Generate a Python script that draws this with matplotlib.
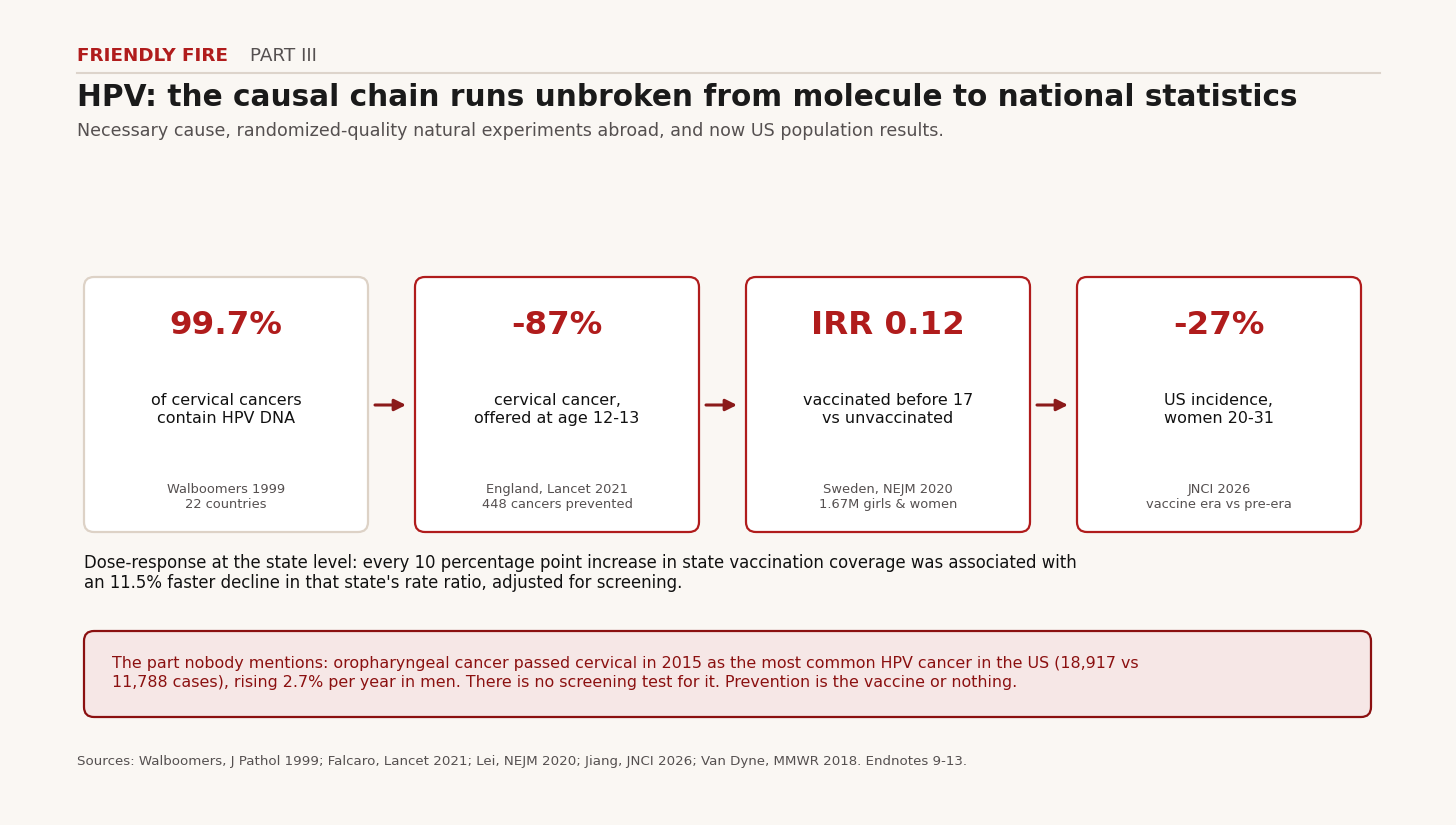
import matplotlib.pyplot as plt
from matplotlib.patches import FancyBboxPatch

plt.rcParams['font.family'] = 'DejaVu Sans'

# card data
stats = ['99.7%', '-87%', 'IRR 0.12', '-27%']
descriptions = ['of cervical cancers\ncontain HPV DNA',
                'cervical cancer,\noffered at age 12-13',
                'vaccinated before 17\nvs unvaccinated',
                'US incidence,\nwomen 20-31']
sources = ['Walboomers 1999\n22 countries',
           'England, Lancet 2021\n448 cancers prevented',
           'Sweden, NEJM 2020\n1.67M girls & women',
           'JNCI 2026\nvaccine era vs pre-era']

kicker = 'FRIENDLY FIRE'
part = 'PART III'
title = 'HPV: the causal chain runs unbroken from molecule to national statistics'
subtitle = 'Necessary cause, randomized-quality natural experiments abroad, and now US population results.'
dose_text = ("Dose-response at the state level: every 10 percentage point increase in state vaccination coverage was associated with\n"
             "an 11.5% faster decline in that state's rate ratio, adjusted for screening.")
callout = ("The part nobody mentions: oropharyngeal cancer passed cervical in 2015 as the most common HPV cancer in the US (18,917 vs\n"
           "11,788 cases), rising 2.7% per year in men. There is no screening test for it. Prevention is the vaccine or nothing.")
foot = 'Sources: Walboomers, J Pathol 1999; Falcaro, Lancet 2021; Lei, NEJM 2020; Jiang, JNCI 2026; Van Dyne, MMWR 2018. Endnotes 9-13.'

BG = '#faf7f3'
RED = '#b01c1c'
DARK = '#8b1a1a'
GRAY = '#555050'

fig = plt.figure(figsize=(14.56, 8.25), dpi=100, facecolor=BG)
ax = fig.add_axes([0, 0, 1, 1])
ax.set_xlim(0, 1456)
ax.set_ylim(825, 0)
ax.axis('off')
ax.set_facecolor(BG)

# header
ax.text(77, 56, kicker, color=RED, fontsize=13.2, fontweight='bold', va='center')
ax.text(250, 56, part, color=GRAY, fontsize=13.2, va='center')
ax.plot([77, 1380], [73, 73], color='#ddd4cb', lw=1.5)
ax.text(77, 97, title, color='#1a1a1a', fontsize=21.3, fontweight='bold', va='center')
ax.text(77, 131, subtitle, color=GRAY, fontsize=12.65, va='center')

# cards
x0 = 84
w = 284
step = 331
top = 277
h = 255
for i in range(len(stats)):
    x = x0 + i * step
    edge = '#ddd2c6' if i == 0 else RED
    box = FancyBboxPatch((x, top), w, h, boxstyle='round,pad=0,rounding_size=10',
                         facecolor='white', edgecolor=edge, lw=1.6)
    ax.add_patch(box)
    cx = x + w / 2
    ax.text(cx, 326, stats[i], color=RED, fontsize=23.4, fontweight='bold', ha='center', va='center')
    ax.text(cx, 409.5, descriptions[i], color='#111111', fontsize=11.5, ha='center', va='center',
            linespacing=1.2)
    ax.text(cx, 497, sources[i], color=GRAY, fontsize=9.4, ha='center', va='center',
            linespacing=1.2)
    if i < len(stats) - 1:
        ax.annotate('', xy=(x + w + 38, 405), xytext=(x + w + 7, 405),
                    arrowprops=dict(arrowstyle='-|>', color=DARK, lw=2.2,
                                    mutation_scale=17, shrinkA=0, shrinkB=0))

ax.text(84, 573, dose_text, color='#111111', fontsize=11.9, va='center', linespacing=1.15)

# callout box
cb = FancyBboxPatch((84, 631), 1287, 86, boxstyle='round,pad=0,rounding_size=10',
                    facecolor='#f6e7e6', edgecolor='#8b1010', lw=1.6)
ax.add_patch(cb)
ax.text(112, 673, callout, color='#8b1010', fontsize=11.45, va='center', linespacing=1.3)

ax.text(77, 762, foot, color=GRAY, fontsize=9.62, va='center')

fig.savefig('out.png', dpi=100, facecolor=BG)
